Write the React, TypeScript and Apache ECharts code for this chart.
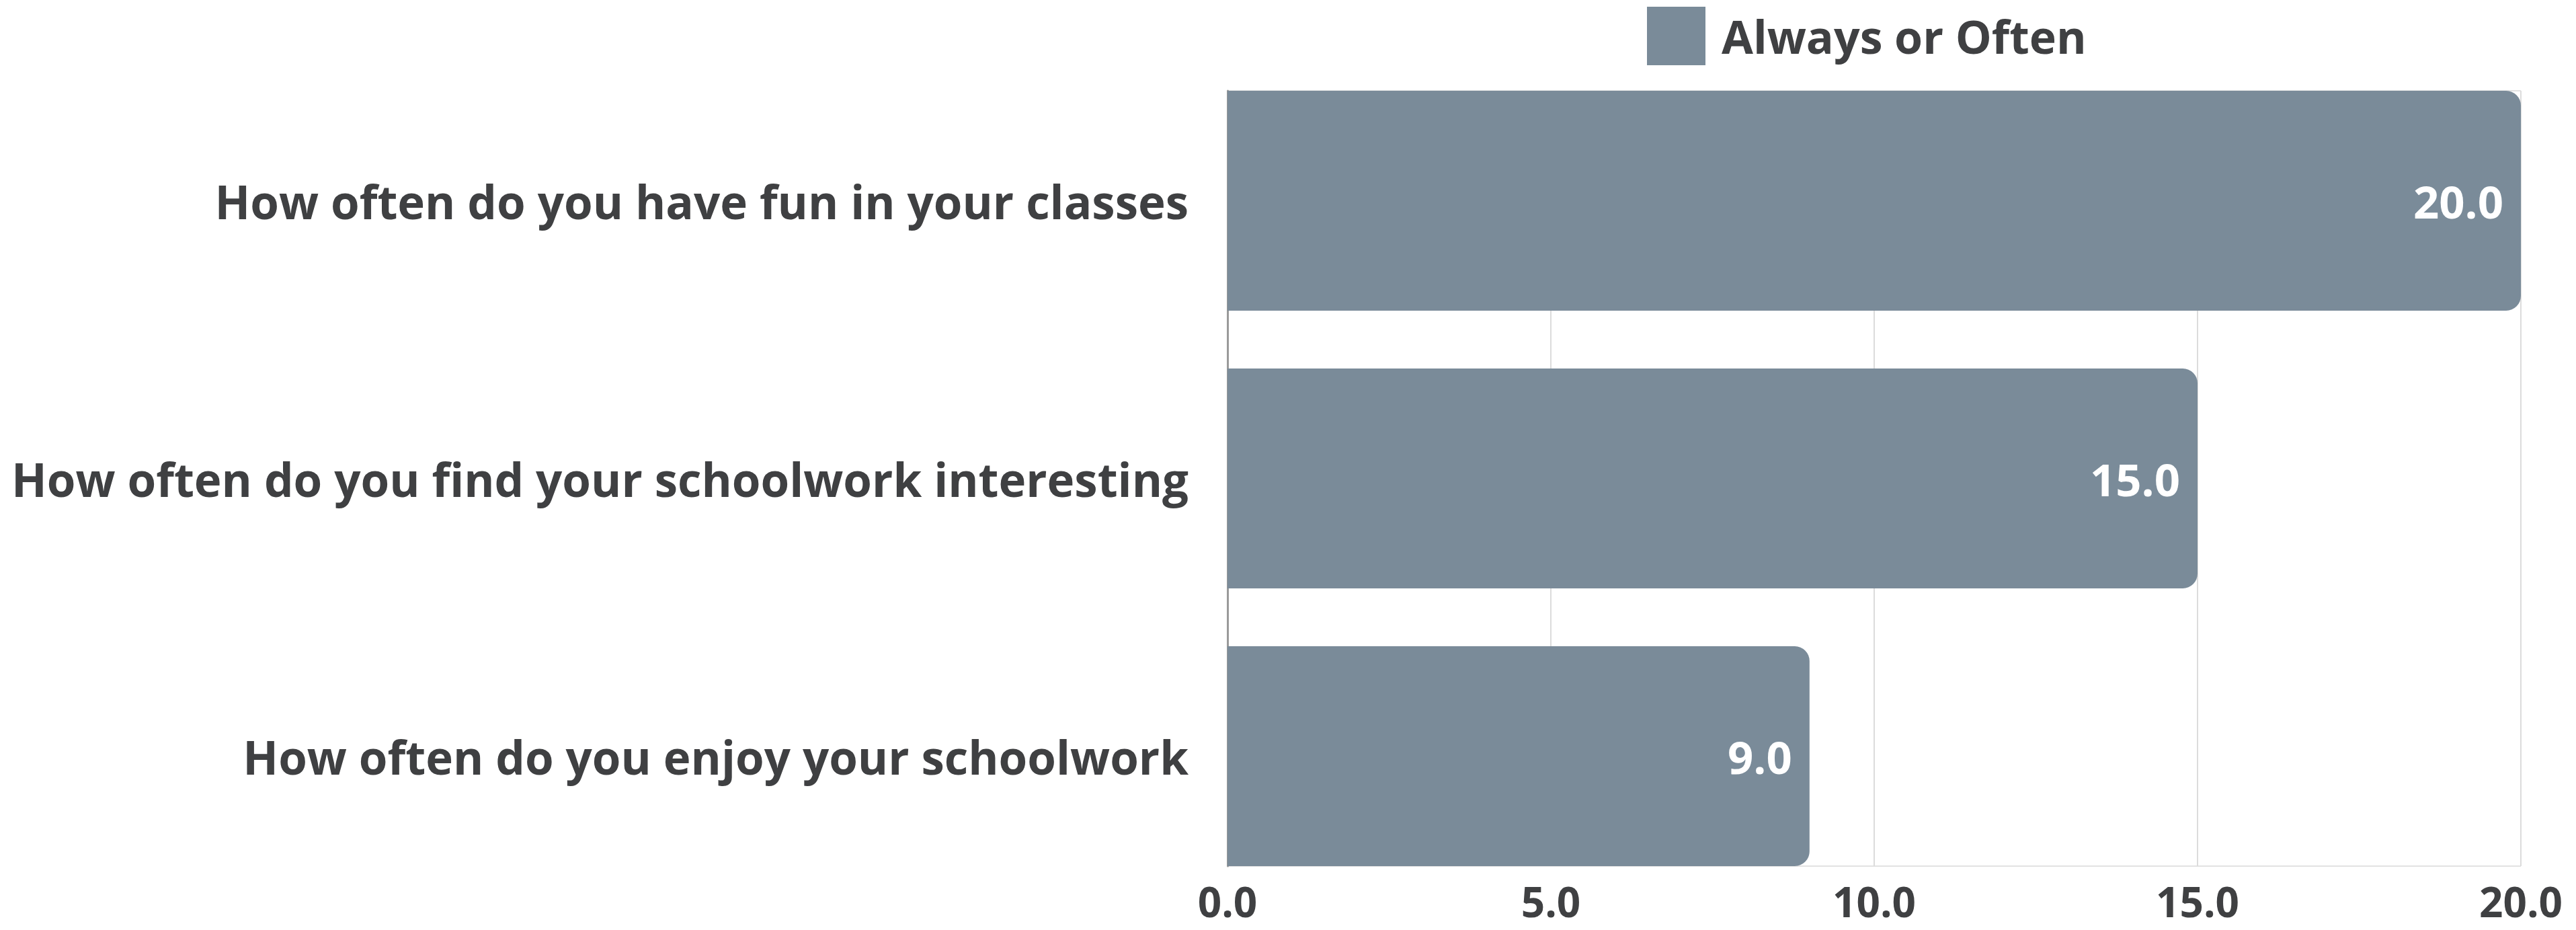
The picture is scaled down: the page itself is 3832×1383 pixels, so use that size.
import React, { useEffect, useRef } from "react";
import * as echarts from "echarts";

const categories = [
  "How often do you have fun in your classes",
  "How often do you find your schoolwork interesting",
  "How often do you enjoy your schoolwork",
];
const seriesName = "Always or Often";
const values = [20.0, 15.0, 9.0];
const xMin = 0;
const xMax = 20;
const xInterval = 5;

const FONT = "'Open Sans', Lato, sans-serif";
const TEXT = "#3f4042";
const BAR = "#7a8b99";

export default function App() {
  const ref = useRef<HTMLDivElement>(null);
  useEffect(() => {
    document.body.style.margin = "0";
    document.body.style.overflow = "hidden";
    const chart = echarts.init(ref.current!, null, { renderer: "svg" });
    chart.setOption({
      animation: false,
      backgroundColor: "#ffffff",
      textStyle: { fontFamily: FONT },
      legend: {
        data: [seriesName],
        left: 2450,
        top: 10,
        padding: 0,
        itemWidth: 87,
        itemHeight: 87,
        itemGap: 0,
        icon: "rect",
        textStyle: {
          fontFamily: FONT,
          fontSize: 68,
          fontWeight: "bold",
          color: TEXT,
          padding: [0, 0, 10, 19],
        },
      },
      grid: [
        { left: 1826, right: 82, top: 92, bottom: 52 },
        { left: 1826, right: 82, top: 135, bottom: 95 },
      ],
      xAxis: [
        {
          gridIndex: 0,
          type: "value",
          min: xMin,
          max: xMax,
          interval: xInterval,
          axisLabel: { show: false },
          axisLine: { show: false },
          axisTick: { show: false },
          splitLine: { show: false },
        },
        {
          gridIndex: 1,
          type: "value",
          min: xMin,
          max: xMax,
          interval: xInterval,
          axisLabel: {
            show: true,
            margin: 21,
            fontFamily: FONT,
            fontSize: 62,
            fontWeight: "bold",
            color: TEXT,
            formatter: (v: number) => v.toFixed(1),
          },
          axisLine: { show: false },
          axisTick: { show: false },
          splitLine: { show: true, lineStyle: { color: "#dcdcdc", width: 2 } },
        },
      ],
      yAxis: [
        {
          gridIndex: 0,
          type: "category",
          inverse: true,
          data: categories,
          axisLabel: {
            margin: 58,
            fontFamily: FONT,
            fontSize: 69,
            fontWeight: "bold",
            color: TEXT,
          },
          axisLine: { show: false },
          axisTick: { show: false },
          splitLine: { show: false },
        },
        {
          gridIndex: 1,
          type: "value",
          min: 0,
          max: 1,
          interval: 1,
          axisLabel: { show: false },
          axisTick: { show: false },
          axisLine: { show: true, lineStyle: { color: "#9a9a9a", width: 3 } },
          splitLine: { show: true, lineStyle: { color: "#e2e2e2", width: 2 } },
        },
      ],
      series: [
        {
          name: seriesName,
          type: "bar",
          xAxisIndex: 0,
          yAxisIndex: 0,
          data: values,
          barWidth: 327,
          z: 3,
          itemStyle: { color: BAR, borderRadius: [0, 22, 22, 0] },
          label: {
            show: true,
            position: "insideRight",
            distance: 26,
            color: "#ffffff",
            fontFamily: FONT,
            fontSize: 67,
            fontWeight: "bold",
            formatter: (p: any) => Number(p.value).toFixed(1),
          },
        },
      ],
    });
    return () => chart.dispose();
  }, []);
  return <div ref={ref} style={{ width: 3832, height: 1383 }} />;
}
